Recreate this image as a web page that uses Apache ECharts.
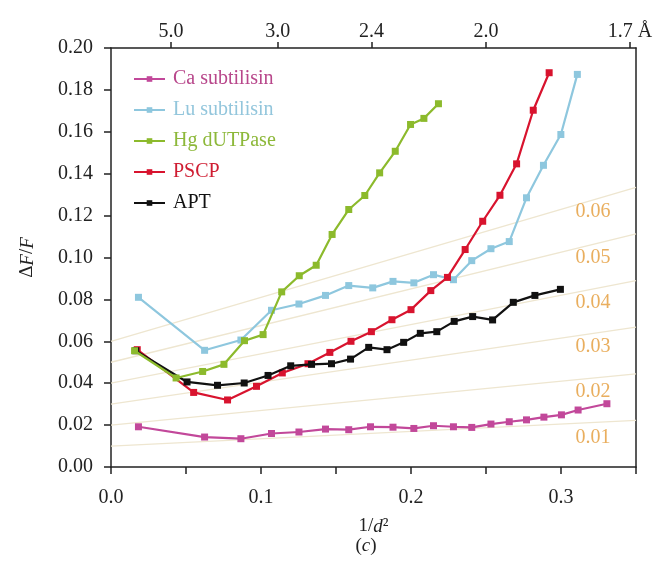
<!DOCTYPE html>
<html lang="en">
<head>
    <meta charset="utf-8"/>
    <script src="https://cdn.jsdelivr.net/npm/echarts@6/dist/echarts.min.js"></script>
    <style>
        html, body { margin: 0; padding: 0; background: #fff; }
        #main { width: 660px; height: 561px; }
    </style>
</head>
<body>
<div id="main"></div>
<script>
    // series data: x = 1/d^2, y = ΔF/F
    var caX = [0.0183, 0.0624, 0.0866, 0.107, 0.1253, 0.143, 0.1585, 0.173, 0.188, 0.2019, 0.215, 0.2283, 0.2405, 0.2533, 0.2655, 0.277, 0.2886, 0.3003, 0.3114, 0.3306];
    var caY = [0.0192, 0.0143, 0.0135, 0.016, 0.0167, 0.0181, 0.0178, 0.0192, 0.019, 0.0184, 0.0197, 0.0192, 0.0189, 0.0205, 0.0216, 0.0225, 0.0238, 0.0249, 0.0272, 0.0302];

    var luX = [0.0183, 0.0624, 0.0866, 0.107, 0.1253, 0.143, 0.1585, 0.1745, 0.188, 0.2019, 0.215, 0.2283, 0.2405, 0.2533, 0.2655, 0.277, 0.2883, 0.2999, 0.3109];
    var luY = [0.081, 0.0557, 0.0606, 0.0748, 0.0778, 0.0819, 0.0866, 0.0855, 0.0886, 0.0879, 0.0918, 0.0894, 0.0985, 0.1042, 0.1076, 0.1285, 0.144, 0.1587, 0.1874];

    var hgX = [0.0157, 0.0434, 0.0611, 0.0753, 0.089, 0.1014, 0.1138, 0.1255, 0.1368, 0.1474, 0.1585, 0.1692, 0.1791, 0.1895, 0.1997, 0.2086, 0.2183];
    var hgY = [0.0555, 0.0425, 0.0456, 0.049, 0.0603, 0.0632, 0.0836, 0.0913, 0.0963, 0.111, 0.1229, 0.1296, 0.1404, 0.1507, 0.1635, 0.1664, 0.1734];

    var pscpX = [0.0175, 0.0551, 0.0777, 0.097, 0.1142, 0.1313, 0.1459, 0.16, 0.1736, 0.1873, 0.2, 0.2132, 0.2243, 0.2361, 0.2478, 0.2593, 0.2704, 0.2815, 0.2921];
    var pscpY = [0.056, 0.0356, 0.032, 0.0385, 0.0449, 0.0493, 0.0547, 0.06, 0.0646, 0.0703, 0.0751, 0.0842, 0.0905, 0.1038, 0.1173, 0.1297, 0.1447, 0.1703, 0.1882];

    var aptX = [0.0165, 0.0507, 0.071, 0.0888, 0.1047, 0.1198, 0.1337, 0.147, 0.1597, 0.1718, 0.184, 0.1951, 0.2062, 0.2172, 0.2288, 0.2411, 0.2544, 0.2682, 0.2826, 0.2996];
    var aptY = [0.0555, 0.0406, 0.039, 0.0401, 0.0437, 0.0483, 0.049, 0.0493, 0.0515, 0.0571, 0.056, 0.0595, 0.0638, 0.0646, 0.0695, 0.0718, 0.0702, 0.0786, 0.0819, 0.0848];

    // faint guide lines, value at x = 0 and at x = 0.35, with their labels
    var refLabels = ['0.01', '0.02', '0.03', '0.04', '0.05', '0.06'];
    var refStart = [0.01, 0.02, 0.03, 0.04, 0.05, 0.06];
    var refEnd = [0.0223, 0.0445, 0.0668, 0.089, 0.1113, 0.1335];
    var refLabelX = 0.3213;
    var refLabelY = [0.0142, 0.036, 0.0573, 0.0784, 0.0999, 0.1217];

    // top axis: resolution in Å at 1/d^2
    var topLabels = ['5.0', '3.0', '2.4', '2.0', '1.7 Å'];
    var topRes = [5.0, 3.0, 2.4, 2.0, 1.7];
    var topTicks = topRes.map(function (d) { return 1 / (d * d); });

    var names = ['Ca subtilisin', 'Lu subtilisin', 'Hg dUTPase', 'PSCP', 'APT'];
    var colors = ['#c2489a', '#8ec7de', '#8cba2c', '#d8132e', '#111111'];
    var textColors = ['#b8478b', '#93c6dc', '#8db83a', '#cf1d32', '#111111'];

    function pairs(xs, ys) {
        return xs.map(function (x, i) { return [x, ys[i]]; });
    }

    var serif = '"Liberation Serif", "Times New Roman", serif';
    var chart = echarts.init(document.getElementById('main'));

    var series = [];
    refStart.forEach(function (s, i) {
        series.push({
            type: 'line',
            silent: true,
            symbol: 'none',
            z: 1,
            lineStyle: {color: '#eee6d0', width: 1.3},
            data: [[0, s], [0.35, refEnd[i]]]
        });
    });
    series.push({
        type: 'scatter',
        silent: true,
        symbolSize: 0,
        z: 1,
        data: refLabelY.map(function (y) { return [refLabelX, y]; }),
        label: {
            show: true,
            position: 'inside',
            color: '#e39a36',
            fontFamily: serif,
            fontSize: 20,
            formatter: function (p) { return refLabels[p.dataIndex]; }
        }
    });

    var seriesData = [pairs(caX, caY), pairs(luX, luY), pairs(hgX, hgY), pairs(pscpX, pscpY), pairs(aptX, aptY)];
    var zOrder = [3, 4, 7, 5, 6];
    names.forEach(function (n, i) {
        series.push({
            name: n,
            type: 'line',
            z: zOrder[i],
            symbol: 'rect',
            symbolSize: 7,
            showSymbol: true,
            color: colors[i],
            lineStyle: {color: colors[i], width: 2.2},
            itemStyle: {color: colors[i]},
            data: seriesData[i]
        });
    });

    var option = {
        animation: false,
        textStyle: {fontFamily: serif},
        grid: {left: 111, right: 24, top: 48, bottom: 94},
        legend: {
            orient: 'vertical',
            left: 128,
            top: 64,
            itemWidth: 31,
            itemHeight: 7,
            itemGap: 11,
            textStyle: {fontFamily: serif, fontSize: 20, padding: [0, 0, 0, 3]},
            data: names.map(function (n, i) {
                return {name: n, textStyle: {color: textColors[i]}};
            })
        },
        xAxis: [{
            type: 'value',
            min: 0,
            max: 0.35,
            interval: 0.05,
            name: '{n|1/}{i|d}{n|²}',
            nameLocation: 'middle',
            nameGap: 50,
            nameTextStyle: {
                rich: {
                    n: {fontFamily: serif, fontSize: 19, color: '#222'},
                    i: {fontFamily: serif, fontSize: 19, fontStyle: 'italic', color: '#222'}
                }
            },
            splitLine: {show: false},
            axisLine: {onZero: false, lineStyle: {color: '#222', width: 1.5}},
            axisTick: {length: 7, lineStyle: {color: '#222', width: 1.5}},
            axisLabel: {
                fontSize: 20, color: '#222', margin: 21,
                formatter: function (v) {
                    return Math.round(v * 100) % 10 === 0 ? v.toFixed(1) : '';
                }
            }
        }, {
            type: 'value',
            position: 'top',
            min: 0,
            max: 0.35,
            splitLine: {show: false},
            axisLine: {onZero: false, lineStyle: {color: '#222', width: 1.5}},
            axisTick: {length: 6, customValues: topTicks, lineStyle: {color: '#222', width: 1.5}},
            axisLabel: {
                fontSize: 20, color: '#222', margin: 6,
                customValues: topTicks,
                formatter: function (v) {
                    var best = 0;
                    topTicks.forEach(function (t, i) {
                        if (Math.abs(t - v) < Math.abs(topTicks[best] - v)) best = i;
                    });
                    return topLabels[best];
                }
            }
        }],
        yAxis: [{
            type: 'value',
            min: 0,
            max: 0.2,
            interval: 0.02,
            name: '{n|Δ}{i|F}{n|/}{i|F}',
            nameLocation: 'middle',
            nameRotate: 90,
            nameGap: 74,
            nameTextStyle: {
                rich: {
                    n: {fontFamily: serif, fontSize: 19, color: '#222'},
                    i: {fontFamily: serif, fontSize: 19, fontStyle: 'italic', color: '#222'}
                }
            },
            splitLine: {show: false},
            axisLine: {onZero: false, lineStyle: {color: '#222', width: 1.5}},
            axisTick: {length: 7, lineStyle: {color: '#222', width: 1.5}},
            axisLabel: {
                fontSize: 20, color: '#222', margin: 18,
                formatter: function (v) { return v.toFixed(2); }
            }
        }, {
            type: 'value',
            position: 'right',
            min: 0,
            max: 0.2,
            splitLine: {show: false},
            axisLine: {show: true, onZero: false, lineStyle: {color: '#222', width: 1.5}},
            axisTick: {show: false},
            axisLabel: {show: false}
        }],
        graphic: [{
            type: 'text',
            x: 366,
            y: 546,
            style: {
                text: '{n|(}{i|c}{n|)}',
                align: 'center',
                verticalAlign: 'middle',
                rich: {
                    n: {fontFamily: serif, fontSize: 19, fill: '#222'},
                    i: {fontFamily: serif, fontSize: 19, fontStyle: 'italic', fill: '#222'}
                }
            }
        }],
        series: series
    };
    chart.setOption(option);
</script>
</body>
</html>
